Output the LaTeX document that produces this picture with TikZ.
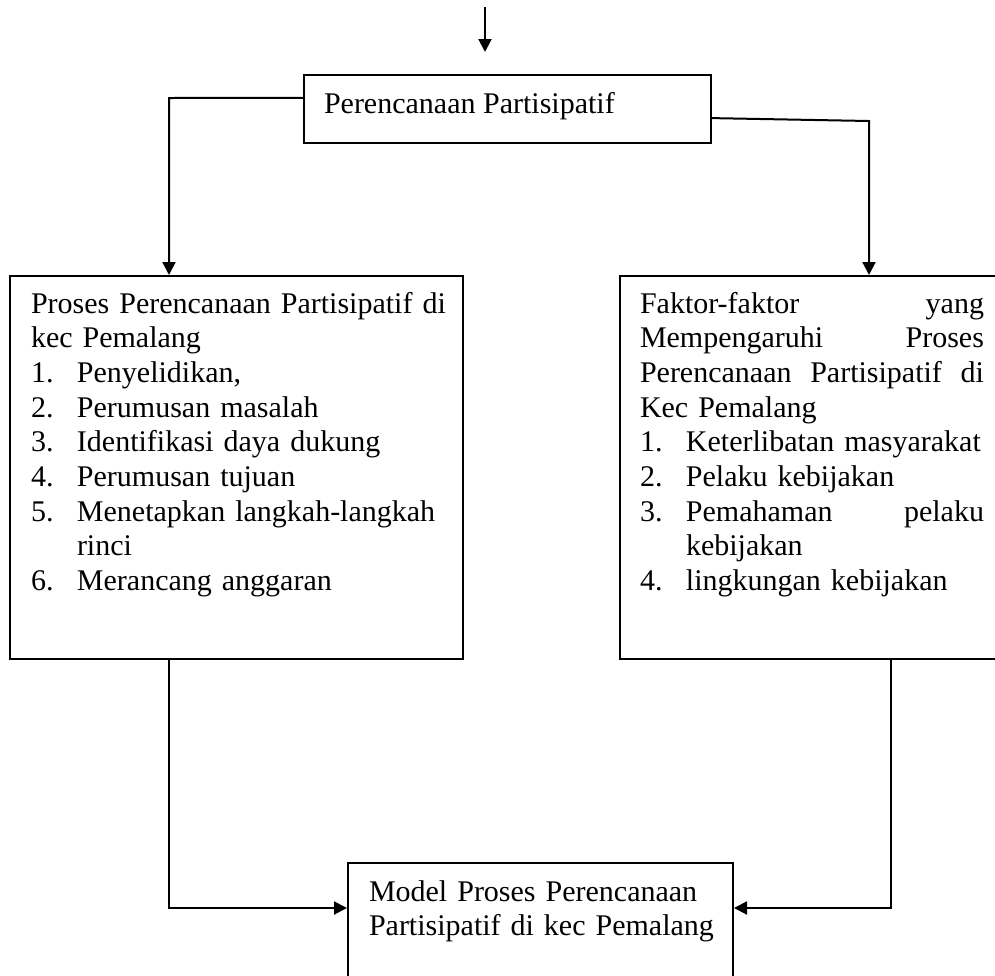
\documentclass[tikz,border=0pt]{standalone}
\usepackage{fontspec}
\setmainfont{Liberation Serif}
\usetikzlibrary{arrows.meta,fit,calc}
% numbered list helpers: label column and hanging indent
\newcommand{\itm}[1]{\makebox[18.4pt][l]{#1}}
\newcommand{\cont}{\hspace*{18.4pt}}

\begin{document}
\begin{tikzpicture}[x=0.4pt,y=-0.4pt,
  line width=0.8pt,
  box/.style={draw, inner sep=0pt},
  txt/.style={inner sep=0pt, anchor=base west, font=\fontsize{12}{13.88}\selectfont, align=left},
  conn/.style={-{Triangle[length=5.2pt,width=5.2pt]}},
]
\clip (0,0) rectangle (995,975);

% boxes
\node[box, fit={(304,75) (711,143)}] (top) {};
\node[box, fit={(10,276) (463,659)}] (lbox) {};
\node[box, fit={(620,276) (1010,659)}] (rbox) {};
\node[box, fit={(348,863) (733,1000)}] (bbox) {};

% texts
\node[txt] (ttop) at (323,113) {Perencanaan Partisipatif};

\node[txt, text width=166pt] (tleft) at (30,313) {Proses Perencanaan Partisipatif di\\
kec Pemalang\\
\itm{1.}Penyelidikan,\\
\itm{2.}Perumusan masalah\\
\itm{3.}Identifikasi daya dukung\\
\itm{4.}Perumusan tujuan\\
\itm{5.}Menetapkan langkah-langkah\\
\cont rinci\\
\itm{6.}Merancang anggaran};

\node[txt, text width=137.6pt] (tright) at (639,313) {Faktor-faktor\hfill yang\\
Mempengaruhi\hfill Proses\\
Perencanaan\hfill Partisipatif\hfill di\\
Kec Pemalang\\
\itm{1.}Keterlibatan masyarakat\\
\itm{2.}Pelaku kebijakan\\
\itm{3.}Pemahaman\hfill pelaku\\
\cont kebijakan\\
\itm{4.}lingkungan kebijakan};

\node[txt, text width=150pt] (tbot) at (368,901) {Model Proses Perencanaan\\
Partisipatif di kec Pemalang};

% connectors
\coordinate (inTop) at (485,7);
\coordinate (inTip) at (485,52);
\coordinate (lbend) at (169,98);
\coordinate (rbend) at (869,121);
\coordinate (bl) at (169,908);
\coordinate (br) at (891,908);

\draw[conn] (inTop) -- (inTip);
\draw[conn] ($(top.north west)!0.34!(top.south west)$) -- (lbend) -- (lbend |- lbox.north);
\draw[conn] ($(top.north east)!0.63!(top.south east)$) -- (rbend) -- (rbend |- rbox.north);
\draw[conn] (bl |- lbox.south) -- (bl) -- (bl -| bbox.west);
\draw[conn] (br |- rbox.south) -- (br) -- (br -| bbox.east);
\end{tikzpicture}
\end{document}
